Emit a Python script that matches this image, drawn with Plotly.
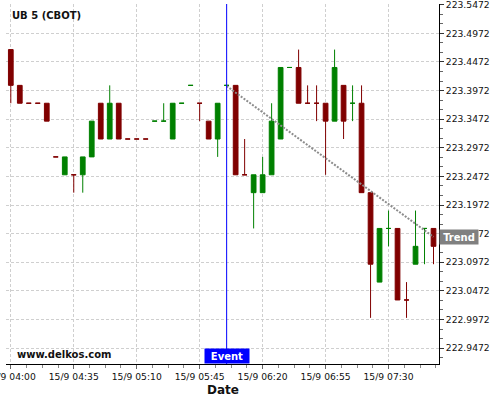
import pandas as pd
import plotly.graph_objects as go

# ---- data ----
times = list(pd.date_range("2015-09-15 04:00", periods=48, freq="5min"))

open_ = [223.46875, 223.40625, 223.375, 223.375, 223.375, 223.28125, 223.25, 223.25, 223.25, 223.28125,
         223.375, 223.3125, 223.375, 223.3125, 223.3125, 223.3125, 223.34375, 223.34375, 223.3125, 223.375,
         223.40625, 223.375, 223.34375, 223.3125, 223.40625, 223.40625, 223.25, 223.21875, 223.21875, 223.25,
         223.3125, 223.4375, 223.4375, 223.375, 223.375, 223.375, 223.34375, 223.40625, 223.375, 223.375,
         223.21875, 223.0625, 223.15625, 223.15625, 223.03125, 223.09375, 223.15625, 223.15625]
high = [223.46875, 223.40625, 223.375, 223.375, 223.375, 223.28125, 223.28125, 223.25, 223.28125, 223.34375,
        223.375, 223.40625, 223.375, 223.3125, 223.3125, 223.3125, 223.34375, 223.375, 223.375, 223.375,
        223.40625, 223.375, 223.34375, 223.375, 223.40625, 223.40625, 223.3125, 223.25, 223.28125, 223.375,
        223.4375, 223.4375, 223.46875, 223.40625, 223.40625, 223.375, 223.46875, 223.40625, 223.40625, 223.40625,
        223.21875, 223.15625, 223.1875, 223.15625, 223.0625, 223.1875, 223.15625, 223.15625]
low = [223.375, 223.375, 223.375, 223.375, 223.34375, 223.28125, 223.25, 223.21875, 223.21875, 223.28125,
       223.3125, 223.3125, 223.3125, 223.3125, 223.3125, 223.3125, 223.34375, 223.34375, 223.3125, 223.375,
       223.40625, 223.34375, 223.3125, 223.28125, 223.40625, 223.25, 223.25, 223.15625, 223.21875, 223.25,
       223.3125, 223.4375, 223.375, 223.375, 223.34375, 223.25, 223.34375, 223.3125, 223.34375, 223.21875,
       223.0, 223.0625, 223.125, 223.03125, 223.0, 223.09375, 223.09375, 223.09375]
close = [223.40625, 223.375, 223.375, 223.375, 223.34375, 223.28125, 223.28125, 223.25, 223.28125, 223.34375,
         223.3125, 223.375, 223.3125, 223.3125, 223.3125, 223.3125, 223.34375, 223.34375, 223.375, 223.375,
         223.40625, 223.375, 223.3125, 223.375, 223.40625, 223.25, 223.25, 223.25, 223.25, 223.34375,
         223.4375, 223.4375, 223.375, 223.375, 223.375, 223.34375, 223.4375, 223.34375, 223.375, 223.21875,
         223.09375, 223.15625, 223.15625, 223.03125, 223.03125, 223.125, 223.15625, 223.125]
direction = ["down", "down", "down", "down", "down", "down", "up", "down", "up", "up",
             "down", "up", "down", "down", "down", "down", "up", "up", "up", "up",
             "up", "down", "down", "up", "up", "down", "down", "up", "up", "up",
             "up", "up", "down", "down", "down", "down", "up", "down", "up", "down",
             "down", "up", "up", "down", "down", "up", "up", "down"]

event_time = "2015-09-15 06:00"
trend_x = ["2015-09-15 06:00", "2015-09-15 07:55"]
trend_y = [223.405, 223.1415]

x_tick_vals = ["2015-09-15 04:00", "2015-09-15 04:35", "2015-09-15 05:10", "2015-09-15 05:45",
               "2015-09-15 06:20", "2015-09-15 06:55", "2015-09-15 07:30"]
x_tick_labels = ["15/9 04:00", "15/9 04:35", "15/9 05:10", "15/9 05:45",
                 "15/9 06:20", "15/9 06:55", "15/9 07:30"]

RED = "#800000"
GREEN = "#008000"
FONT = "DejaVu Sans"

fig = go.Figure()
for d, col in (("down", RED), ("up", GREEN)):
    idx = [i for i, v in enumerate(direction) if v == d]
    fig.add_trace(go.Candlestick(
        x=[times[i] for i in idx],
        open=[open_[i] for i in idx],
        high=[high[i] for i in idx],
        low=[low[i] for i in idx],
        close=[close[i] for i in idx],
        increasing=dict(line=dict(color=col, width=1), fillcolor=col),
        decreasing=dict(line=dict(color=col, width=1), fillcolor=col),
        whiskerwidth=0,
        showlegend=False,
        hoverinfo="skip",
    ))

fig.add_trace(go.Scatter(
    x=trend_x, y=trend_y, mode="lines",
    line=dict(color="#8c8c8c", width=2, dash="2px,1.5px"),
    showlegend=False, hoverinfo="skip",
))

fig.add_shape(type="line", xref="x", yref="paper", x0=event_time, x1=event_time,
              y0=0, y1=1, line=dict(color="#0000ff", width=1))

fig.add_annotation(xref="x", yref="paper", x=event_time, y=0, yanchor="bottom",
                   text="<b>Event</b>", showarrow=False, bgcolor="#0000ff",
                   width=42, height=12, align="center",
                   font=dict(family=FONT, size=10, color="white"), borderpad=1)
fig.add_annotation(xref="paper", yref="y", x=1.0, y=trend_y[-1], xanchor="left",
                   text="<b>Trend</b>", showarrow=False, bgcolor="#808080",
                   width=36, height=12, align="center",
                   font=dict(family=FONT, size=10, color="white"), borderpad=1)
fig.add_annotation(xref="paper", yref="paper", x=0.009, y=0.969, xanchor="left", yanchor="middle",
                   text="<b>UB 5 (CBOT)</b>", showarrow=False,
                   font=dict(family=FONT, size=10, color="#111"))
fig.add_annotation(xref="paper", yref="paper", x=0.021, y=0.027, xanchor="left", yanchor="middle",
                   text="<b>www.delkos.com</b>", showarrow=False,
                   font=dict(family=FONT, size=10, color="#111"))
fig.add_annotation(xref="paper", yref="paper", x=0.5, y=-0.072, xanchor="center", yanchor="middle",
                   text="<b>Date</b>", showarrow=False,
                   font=dict(family=FONT, size=12, color="#111"))

fig.update_layout(
    width=500, height=400,
    margin=dict(l=6, r=61, t=4, b=36, autoexpand=False),
    paper_bgcolor="white", plot_bgcolor="white",
    font=dict(family=FONT, size=9, color="#111"),
    showlegend=False,
    boxgap=0.25,
    xaxis=dict(
        type="date", automargin=False,
        range=["2015-09-15 03:57:20", "2015-09-15 07:58:03"],
        rangeslider=dict(visible=False),
        tickmode="array", tickvals=x_tick_vals, ticktext=x_tick_labels,
        ticklabeloverflow="allow",
        tickfont=dict(family=FONT, size=9.2, color="#111"),
        ticks="outside", ticklen=4, tickcolor="#666",
        showgrid=True, gridcolor="#cfcfcf", griddash="3px,2px", gridwidth=1,
        showline=True, linecolor="black", linewidth=1,
        zeroline=False,
        minor=dict(tick0="2015-09-15 04:00", dtick=525000, ticks="outside", ticklen=3,
                   tickcolor="#888", showgrid=False),
    ),
    yaxis=dict(
        side="right", automargin=False,
        range=[222.9194, 223.5484],
        tickmode="linear", tick0=222.9472, dtick=0.05, tickformat=".4f",
        ticklabeloverflow="allow",
        tickfont=dict(family=FONT, size=9.2, color="#111"),
        ticks="outside", ticklen=4, tickcolor="#333",
        showgrid=True, gridcolor="#cfcfcf", griddash="3px,2px", gridwidth=1,
        showline=True, linecolor="black", linewidth=1,
        zeroline=False,
        minor=dict(tick0=222.9472, dtick=0.05 / 3, ticks="outside", ticklen=3,
                   tickcolor="#666", showgrid=False),
    ),
)

fig.write_html("out.html", config={"displayModeBar": False},
               post_script="document.body.style.margin='0';")
